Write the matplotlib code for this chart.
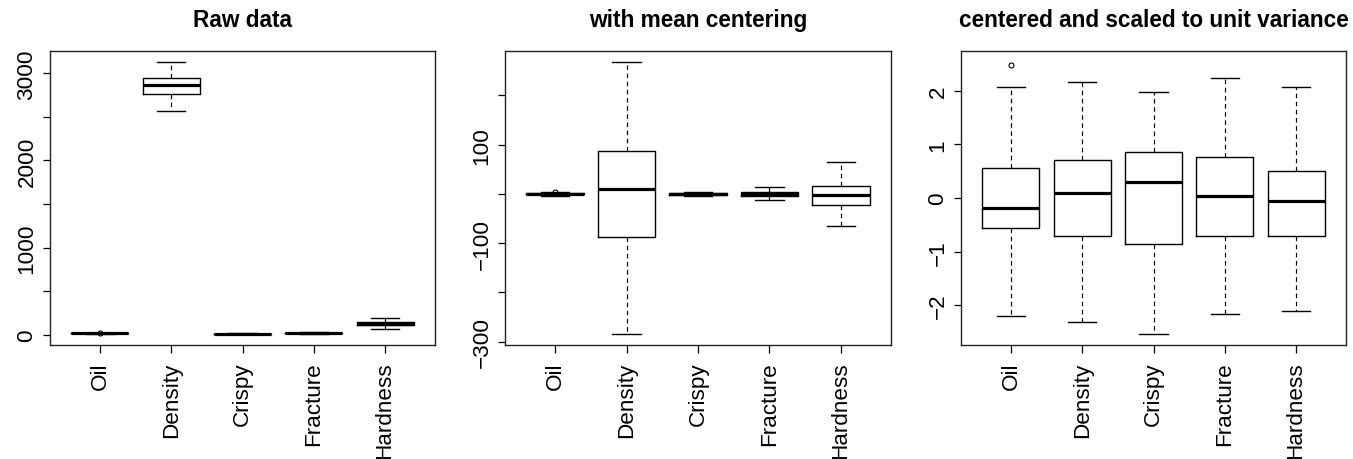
import matplotlib
matplotlib.use("Agg")
import matplotlib.pyplot as plt

plt.rcParams["font.family"] = ["Liberation Sans", "DejaVu Sans"]

variables = ["Oil", "Density", "Crispy", "Fracture", "Hardness"]

# Raw measurements: five-number summaries per variable
raw_low = [13.7, 2565, 7.0, 9.0, 62]
raw_q1 = [16.3, 2760, 10.0, 17.0, 106]
raw_med = [16.9, 2863, 12.0, 21.0, 126]
raw_q3 = [18.1, 2944, 13.0, 25.1, 144]
raw_high = [20.5, 3131, 15.0, 33.1, 192]
raw_out = [[21.1], [], [], [], []]

# Mean-centred values
cen_low = [-3.5, -285, -4.5, -12.0, -65]
cen_q1 = [-0.9, -87, -1.5, -3.8, -23]
cen_med = [-0.3, 10, 0.5, 0.2, -2]
cen_q3 = [0.9, 87, 1.5, 4.2, 15]
cen_high = [3.3, 268, 3.5, 13.0, 64]
cen_out = [[3.9], [], [], [], []]

# Centred and scaled to unit variance
sc_low = [-2.20, -2.31, -2.54, -2.17, -2.11]
sc_q1 = [-0.56, -0.70, -0.85, -0.70, -0.70]
sc_med = [-0.19, 0.09, 0.29, 0.03, -0.06]
sc_q3 = [0.56, 0.70, 0.85, 0.77, 0.51]
sc_high = [2.07, 2.16, 1.97, 2.24, 2.06]
sc_out = [[2.47], [], [], [], []]

titles = ["Raw data", "with mean centering", "centered and scaled to unit variance"]
ytick_pos = [
    [0, 500, 1000, 1500, 2000, 2500, 3000],
    [-300, -200, -100, 0, 100, 200],
    [-2, -1, 0, 1, 2],
]
ytick_lab = [
    ["0", "", "1000", "", "2000", "", "3000"],
    ["\u2212300", "", "\u2212100", "", "100", ""],
    ["\u22122", "\u22121", "0", "1", "2"],
]
ylims = [(-118, 3256), (-307, 290), (-2.74, 2.74)]

panels = [
    (raw_low, raw_q1, raw_med, raw_q3, raw_high, raw_out),
    (cen_low, cen_q1, cen_med, cen_q3, cen_high, cen_out),
    (sc_low, sc_q1, sc_med, sc_q3, sc_high, sc_out),
]

W, H = 1353, 460
fig = plt.figure(figsize=(W / 100, H / 100), dpi=100)

# axes boxes in pixels: left, right, top, bottom
boxes_px = [(50, 435, 52, 346), (505, 891, 52, 346), (961, 1346, 52, 346)]

for i, (lo, q1, med, q3, hi, out) in enumerate(panels):
    l, r, t, b = boxes_px[i]
    ax = fig.add_axes([l / W, (H - b) / H, (r - l) / W, (b - t) / H])
    stats = []
    for k, name in enumerate(variables):
        stats.append(dict(label=name, whislo=lo[k], q1=q1[k], med=med[k],
                          q3=q3[k], whishi=hi[k], fliers=out[k]))
    ax.bxp(stats, positions=range(1, 6), widths=0.8, capwidths=0.4,
           boxprops=dict(color="black", linewidth=1.0),
           medianprops=dict(color="black", linewidth=2.3, solid_capstyle="butt"),
           whiskerprops=dict(color="black", linewidth=0.85, linestyle=(0, (3.9, 3.0))),
           capprops=dict(color="black", linewidth=1.0),
           flierprops=dict(marker="o", markersize=3.6, markerfacecolor="none",
                           markeredgecolor="black", markeredgewidth=0.8))
    ax.set_xlim(0.3, 5.7)
    ax.set_ylim(*ylims[i])
    ax.set_yticks(ytick_pos[i])
    ax.set_yticklabels(ytick_lab[i])
    ax.set_xticks(range(1, 6))
    ax.set_xticklabels(variables)
    for sp in ax.spines.values():
        sp.set_color("#222222")
        sp.set_linewidth(1.0)
    ax.tick_params(axis="both", direction="out", length=5.4, width=0.9,
                   labelsize=16.2, colors="black")
    ax.tick_params(axis="y", pad=3.6)
    ax.tick_params(axis="x", pad=6.5)
    for lab in ax.get_yticklabels():
        lab.set_rotation(90)
        lab.set_va("center")
        lab.set_ha("right")
    for lab in ax.get_xticklabels():
        lab.set_rotation(90)
        lab.set_ha("center")
        lab.set_va("top")
    ax.set_title(titles[i], fontsize=16.3, fontweight="bold", pad=18)

fig.savefig("out.png", dpi=100)
